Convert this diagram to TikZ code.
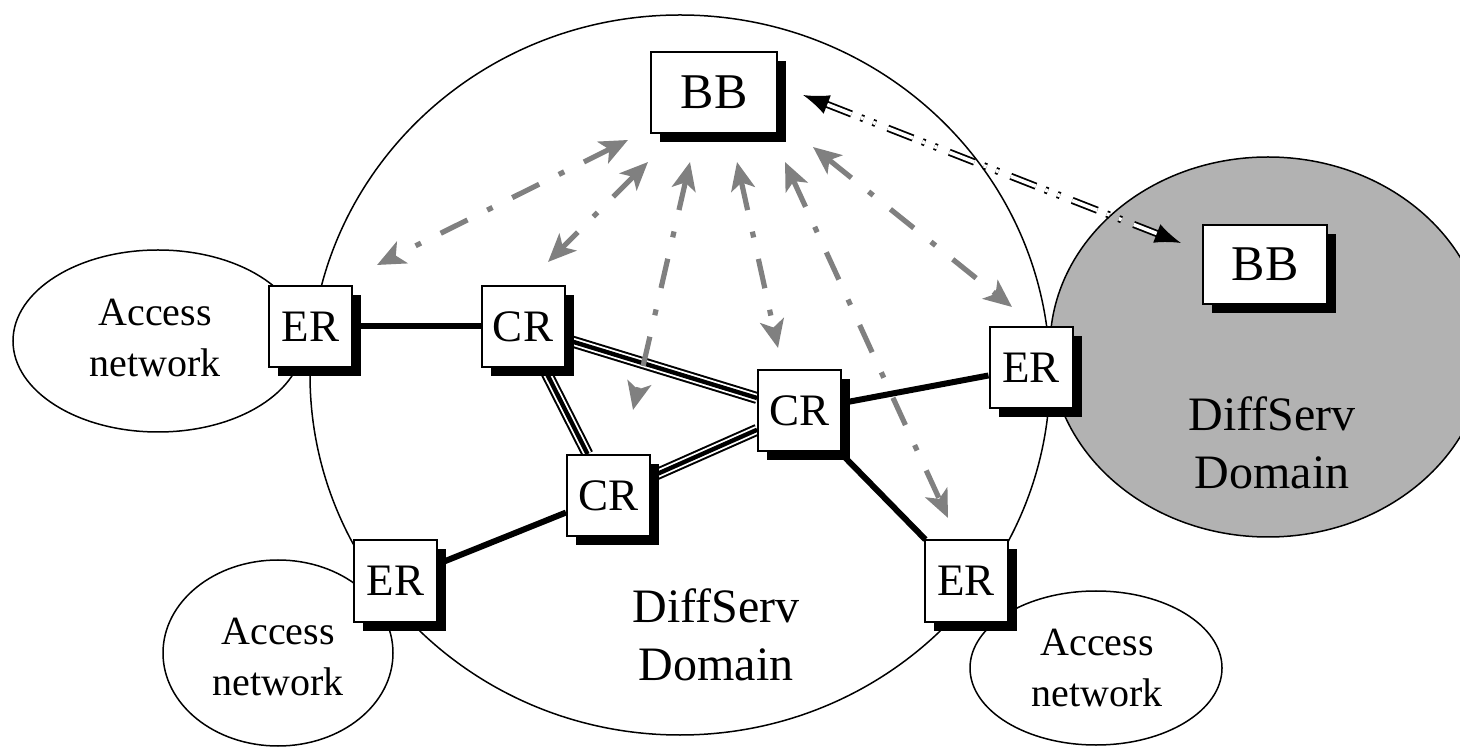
\documentclass[tikz,border=0pt]{standalone}
\usepackage{fontspec}
\setmainfont{Liberation Serif}
\usetikzlibrary{arrows.meta,shadows,calc,backgrounds}

\begin{document}
\begin{tikzpicture}[x=0.5pt,y=-0.5pt,
  router/.style={draw,line width=1pt,fill=white,inner sep=0pt,
    minimum width=41.5pt,minimum height=40.5pt,font=\fontsize{22.5}{27}\selectfont,
    drop shadow={shadow xshift=4.5pt,shadow yshift=-4.5pt,fill=black,opacity=1}},
  broker/.style={router,minimum width=63pt,font=\fontsize{25}{30}\selectfont},
  netcloud/.style={draw,line width=0.75pt},
  accesstext/.style={align=center,font=\fontsize{20}{25.5}\selectfont},
  domaintext/.style={align=center,font=\fontsize{24}{29}\selectfont},
  edgelink/.style={line width=3pt},
  corelink/.style={line width=6pt,postaction={draw,white,line width=4pt},
    postaction={draw,black,line width=2.2pt}},
  bbsignal/.style={black!50,line width=2.6pt,dash pattern=on 15pt off 11pt on 3pt off 11pt,
    {Stealth[length=14pt,width=12pt,inset=3.5pt]}-{Stealth[length=14pt,width=12pt,inset=3.5pt]}},
  peerlink/.style={line width=0.9pt,double=white,double distance=1.8pt,
    dash pattern=on 13.5pt off 5pt on 1.5pt off 5pt on 1.5pt off 6.5pt,
    {Latex[length=13pt,width=10pt]}-{Latex[length=13pt,width=10pt]}}
]
\useasboundingbox (0,0) rectangle (1460,747);
\clip (0,0) rectangle (1460,747);

% domains and access networks
\draw[netcloud,fill=black!30] (1268,347) ellipse [x radius=218,y radius=190];
\draw[netcloud] (680,375) ellipse [x radius=370,y radius=360];
\draw[netcloud] (158,341) ellipse [x radius=145,y radius=91];
\draw[netcloud] (278,653) ellipse [x radius=115,y radius=93];
\draw[netcloud] (1096,668) ellipse [x radius=126,y radius=77];

\node[accesstext] (accL) at (155,338) {Access\\network};
\node[accesstext] (accBL) at (278,657) {Access\\network};
\node[accesstext] (accBR) at (1097,668) {Access\\network};
\node[domaintext] (dsMain) at (716,635) {DiffServ\\Domain};
\node[domaintext] (dsPeer) at (1272,443) {DiffServ\\Domain};

% routers and brokers
\node[broker] (BBtop) at (714,92.5) {BB};
\node[broker,minimum width=62pt,minimum height=39.5pt] (BBright) at (1265,264.5) {BB};
\node[router] (ERl) at (310.5,326.5) {ER};
\node[router] (CRa) at (523,326.5) {CR};
\node[router] (CRb) at (799.5,411) {CR};
\node[router] (CRc) at (608.5,495.5) {CR};
\node[router] (ERr) at (1031,367.5) {ER};
\node[router] (ERbl) at (395.5,581) {ER};
\node[router] (ERbr) at (966,581) {ER};

\begin{scope}[on background layer]
\draw[edgelink] (ERl) -- (CRa);
\draw[edgelink] (CRb) -- (ERr);
\draw[edgelink] (CRc) -- (ERbl);
\draw[edgelink] (CRb) -- (ERbr);
\draw[corelink] (CRa) -- (CRb);
\draw[corelink] (CRa) -- (CRc);
\draw[corelink] (CRc) -- (CRb);
\end{scope}

% signalling
\draw[bbsignal] ($(BBtop)+(-86,47.5)$) -- ($(ERl)+(66.5,-61.5)$);
\draw[bbsignal] ($(BBtop)+(-66,69.5)$) -- ($(CRa)+(25,-64.5)$);
\draw[bbsignal] ($(BBtop)+(-24,69.5)$) -- ($(CRc)+(24.5,-85.5)$);
\draw[bbsignal] ($(BBtop)+(23,69.5)$) -- ($(CRb)+(-21.5,-63)$);
\draw[bbsignal] ($(BBtop)+(71,69.5)$) -- ($(ERbr)+(-18,-63)$);
\draw[bbsignal] ($(BBtop)+(99,54.5)$) -- ($(ERr)+(-19,-60.5)$);
\draw[peerlink] ($(BBtop.east)+(25,2.5)$) -- ($(BBright.west)+(-21,-21.5)$);
\end{tikzpicture}
\end{document}
